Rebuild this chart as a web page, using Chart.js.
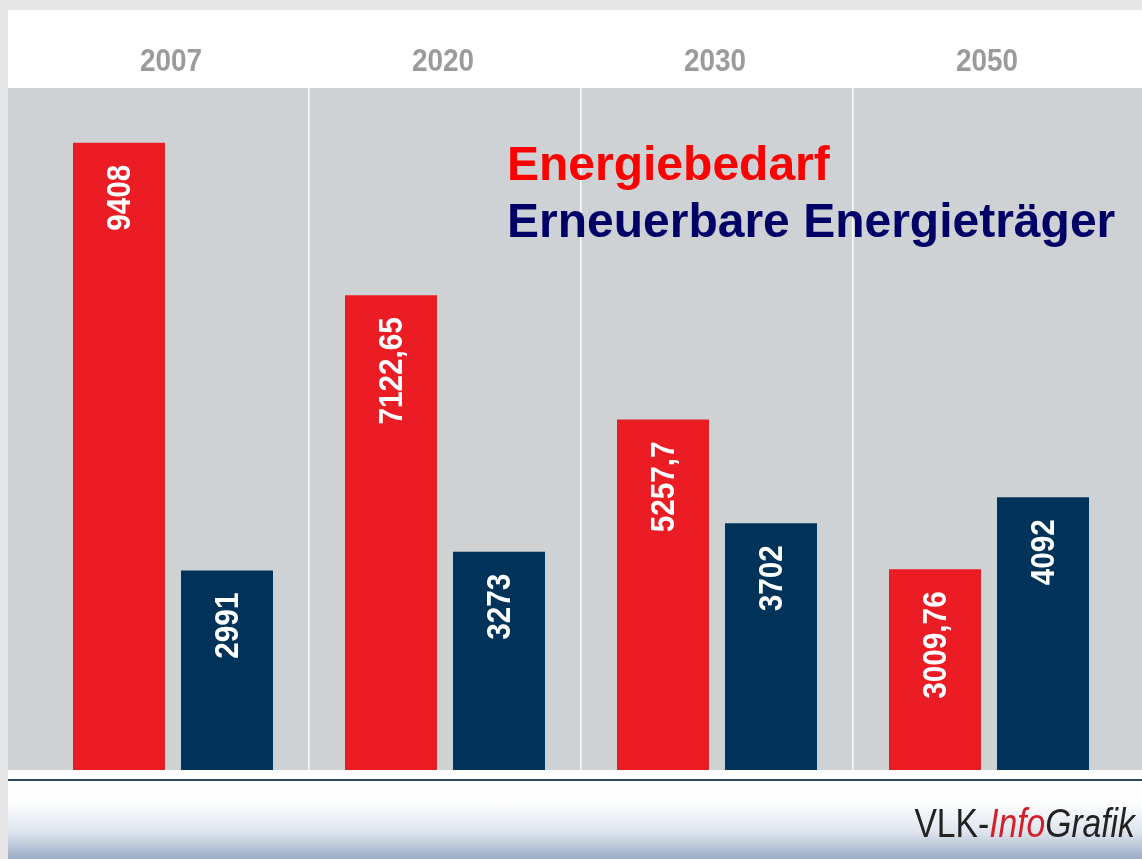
<!DOCTYPE html>
<html>
<head>
<meta charset="utf-8">
<script src="https://cdn.jsdelivr.net/npm/chart.js@4"></script>
<style>
  html, body { margin: 0; padding: 0; width: 1142px; height: 859px; overflow: hidden; background: #e6e6e6; }
  #frame { position: absolute; left: 8px; top: 10px; width: 1134px; height: 849px; background: #fff; }
  #footer { position: absolute; left: 8px; top: 779px; width: 1134px; height: 78px; border-top: 2px solid #2b4d5b;
            background: linear-gradient(to bottom, #fff 0%, #fbfcfd 30%, #dfe5ed 65%, #9aacc4 100%); }
  #chart { position: absolute; left: 0; top: 0; }
  .leg { position: absolute; left: 507px; font: bold 48px "Liberation Sans", Arial, sans-serif; line-height: 48px; white-space: nowrap; }
  #brand { position: absolute; right: 7px; top: 803px; font: 41px "Liberation Sans", Arial, sans-serif; line-height: 41px; color: #222;
           white-space: nowrap; transform: scaleX(0.82); transform-origin: right center; }
  #brand i { color: #d41f2a; }
</style>
</head>
<body>
<div id="frame"></div>
<div id="footer"></div>
<canvas id="chart" width="1142" height="859"></canvas>
<div class="leg" style="top:140px;color:#ff0000">Energiebedarf</div>
<div class="leg" style="top:197px;color:#000066">Erneuerbare Energieträger</div>
<div id="brand">VLK-<i>Info</i><i style="color:#222">Grafik</i></div>
<script>
const years = ['2007', '2020', '2030', '2050'];
const bedarf = [9408, 7122.65, 5257.7, 3009.76];
const erneuerbar = [2991, 3273, 3702, 4092];

// condensed look: Liberation Sans squeezed along the text direction
const NARROW = 0.9;

const plotBg = {
    id: 'plotBg',
    beforeDraw(chart) {
        const { ctx, chartArea } = chart;
        ctx.save();
        ctx.fillStyle = '#cfd2d5';
        ctx.fillRect(8, chartArea.top, chart.width - 8, chartArea.bottom - chartArea.top);
        ctx.restore();
    }
};

// year labels above the plot, placed by the x scale
const yearLabels = {
    id: 'yearLabels',
    afterDraw(chart) {
        const ctx = chart.ctx;
        const xs = chart.scales.x;
        ctx.save();
        ctx.fillStyle = '#9b9b9b';
        ctx.font = 'bold 31px "Liberation Sans", Arial, sans-serif';
        ctx.textAlign = 'center';
        ctx.textBaseline = 'alphabetic';
        chart.data.labels.forEach((lbl, i) => {
            ctx.save();
            ctx.translate(xs.getPixelForTick(i) - 2, chart.chartArea.top - 17);
            ctx.scale(NARROW, 1);
            ctx.fillText(lbl, 0, 0);
            ctx.restore();
        });
        ctx.restore();
    }
};

const barLabels = {
    id: 'barLabels',
    afterDatasetsDraw(chart) {
        const ctx = chart.ctx;
        ctx.save();
        ctx.fillStyle = '#fff';
        ctx.font = 'bold 33px "Liberation Sans", Arial, sans-serif';
        chart.data.datasets.forEach((ds, i) => {
            chart.getDatasetMeta(i).data.forEach((bar, j) => {
                ctx.save();
                ctx.translate(bar.x + 2, bar.y + 22);
                ctx.rotate(-Math.PI / 2);
                ctx.scale(NARROW, 1);
                ctx.textAlign = 'right';
                ctx.textBaseline = 'middle';
                ctx.fillText(String(ds.data[j]).replace('.', ','), 0, 0);
                ctx.restore();
            });
        });
        ctx.restore();
    }
};

new Chart(document.getElementById('chart'), {
    type: 'bar',
    data: {
        labels: years,
        datasets: [
            { label: 'Energiebedarf', data: bedarf, backgroundColor: '#ec1c24' },
            { label: 'Erneuerbare Energieträger', data: erneuerbar, backgroundColor: '#00335a' }
        ]
    },
    options: {
        responsive: false, animation: false,
        categoryPercentage: 0.794, barPercentage: 0.852,
        layout: { padding: { left: 37, right: 17, top: 10, bottom: 89 } },
        plugins: { legend: { display: false }, tooltip: { enabled: false } },
        scales: {
            x: {
                position: 'top',
                afterFit: s => { s.height = 78; },
                border: { display: false },
                grid: { offset: true, drawTicks: false, lineWidth: 1.5, color: c => (c.index > 0 && c.index < years.length) ? '#ffffff' : 'transparent' },
                ticks: { display: false }
            },
            y: { display: false, min: 0, max: 10230 }
        }
    },
    plugins: [plotBg, yearLabels, barLabels]
});
</script>
</body>
</html>
